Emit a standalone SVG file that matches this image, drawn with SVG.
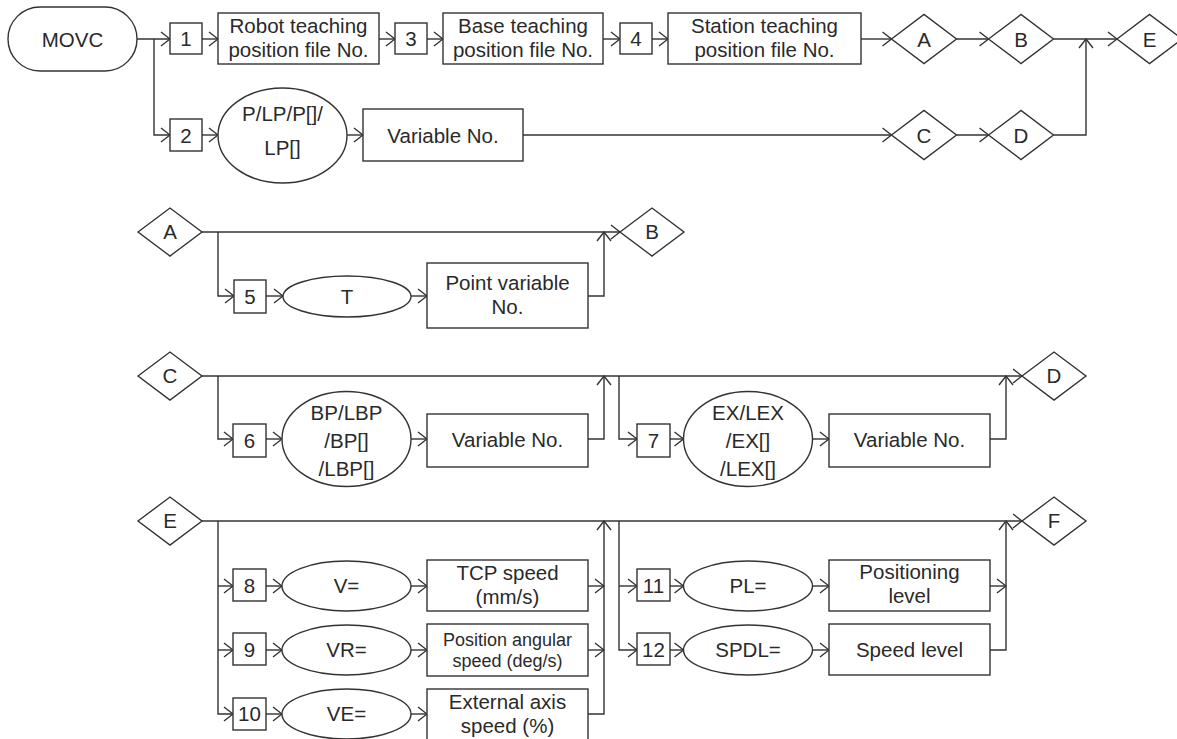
<svg xmlns="http://www.w3.org/2000/svg" width="1177" height="739" viewBox="0 0 1177 739">
<defs>
<marker id="arr" markerUnits="userSpaceOnUse" markerWidth="12" markerHeight="16" viewBox="-1 -8 12 16" refX="10" refY="0" orient="auto">
<path d="M1,-7 L10,0 L1,7" fill="none" stroke="#333" stroke-width="1.4"/>
</marker>
</defs>
<style>
.s{fill:#fff;stroke:#333;stroke-width:1.4}
.c{fill:none;stroke:#333;stroke-width:1.4}
.a{marker-end:url(#arr)}
text{font-family:"Liberation Sans",Arial,sans-serif;font-size:20.5px;fill:#2a2a2a;text-anchor:middle}
.sm{font-size:18px}
</style>
<rect width="1177" height="739" fill="#fff"/>
<g id="connectors">
<path class="c a" d="M137,39 H170"/>
<path class="c a" d="M154,39 V135 H170"/>
<path class="c a" d="M202,39 H218"/>
<path class="c a" d="M379,39 H395"/>
<path class="c a" d="M427,39 H443"/>
<path class="c a" d="M603,39 H620"/>
<path class="c a" d="M652,39 H668"/>
<path class="c a" d="M861,39 H891.5"/>
<path class="c a" d="M956.5,39 H988.5"/>
<path class="c a" d="M1053.5,39 H1117"/>
<path class="c a" d="M202,135 H218"/>
<path class="c a" d="M347,135 H363"/>
<path class="c a" d="M523,135 H891.5"/>
<path class="c a" d="M956.5,135 H988.5"/>
<path class="c a" d="M1053.5,135 H1086 V39"/>
<path class="c a" d="M202,232 H620"/>
<path class="c a" d="M218,232 V296 H234"/>
<path class="c a" d="M266,296 H283"/>
<path class="c a" d="M411,296 H427"/>
<path class="c a" d="M588,296 H604 V232"/>
<path class="c a" d="M202,376 H1022"/>
<path class="c a" d="M218,376 V439 H233"/>
<path class="c a" d="M266,439 H282"/>
<path class="c a" d="M411,439 H427"/>
<path class="c a" d="M588,439 H604 V376"/>
<path class="c a" d="M619,376 V439 H637"/>
<path class="c a" d="M670,439 H683.5"/>
<path class="c a" d="M812.5,439 H829"/>
<path class="c a" d="M990,439 H1006 V376"/>
<path class="c a" d="M202,521 H1022"/>
<path class="c a" d="M218,521 V714 H233"/>
<path class="c a" d="M218,586 H233"/>
<path class="c a" d="M218,650 H233"/>
<path class="c a" d="M266,586 H282"/>
<path class="c a" d="M266,650 H282"/>
<path class="c a" d="M266,714 H282"/>
<path class="c a" d="M411,586 H427"/>
<path class="c a" d="M411,650 H427"/>
<path class="c a" d="M411,714 H427"/>
<path class="c a" d="M588,586 H604"/>
<path class="c a" d="M588,650 H604"/>
<path class="c a" d="M588,714 H604 V521"/>
<path class="c a" d="M619,521 V650 H637"/>
<path class="c a" d="M619,586 H637"/>
<path class="c a" d="M670,586 H683.5"/>
<path class="c a" d="M670,650 H683.5"/>
<path class="c a" d="M812.5,586 H829"/>
<path class="c a" d="M812.5,650 H829"/>
<path class="c a" d="M990,586 H1006"/>
<path class="c a" d="M990,650 H1006 V521"/>
</g>
<g id="movc"><rect class="s" x="8" y="7" width="129" height="64" rx="32" ry="32"/><text x="72.5" y="46.5">MOVC</text></g>
<g id="n1"><rect class="s" x="170" y="23" width="32" height="31"/><text x="186" y="46">1</text></g>
<g id="robot-file"><rect class="s" x="218" y="13" width="161" height="51"/><text x="298.5" y="33">Robot teaching</text><text x="298.5" y="57">position file No.</text></g>
<g id="n3"><rect class="s" x="395" y="23" width="32" height="31"/><text x="411" y="46">3</text></g>
<g id="base-file"><rect class="s" x="443" y="13" width="160" height="51"/><text x="523" y="33">Base teaching</text><text x="523" y="57">position file No.</text></g>
<g id="n4"><rect class="s" x="620" y="23" width="32" height="31"/><text x="636" y="46">4</text></g>
<g id="station-file"><rect class="s" x="668" y="13" width="193" height="51"/><text x="764.5" y="33">Station teaching</text><text x="764.5" y="57">position file No.</text></g>
<g id="dA1"><polygon class="s" points="891.5,39 924,14.5 956.5,39 924,63.5"/><text x="924" y="46.5">A</text></g>
<g id="dB1"><polygon class="s" points="988.5,39 1021,14.5 1053.5,39 1021,63.5"/><text x="1021" y="46.5">B</text></g>
<g id="dE1"><polygon class="s" points="1117,39 1149.5,14.5 1182,39 1149.5,63.5"/><text x="1149.5" y="46.5">E</text></g>
<g id="n2"><rect class="s" x="170" y="119" width="32" height="32"/><text x="186" y="142.5">2</text></g>
<g id="p-lp"><ellipse class="s" cx="282.5" cy="135.5" rx="64.5" ry="47.5"/><text x="282.5" y="121">P/LP/P[]/</text><text x="282.5" y="155">LP[]</text></g>
<g id="var1"><rect class="s" x="363" y="109" width="160" height="52"/><text x="443" y="142.5">Variable No.</text></g>
<g id="dC1"><polygon class="s" points="891.5,135 924,110.5 956.5,135 924,159.5"/><text x="924" y="142.5">C</text></g>
<g id="dD1"><polygon class="s" points="988.5,135 1021,110.5 1053.5,135 1021,159.5"/><text x="1021" y="142.5">D</text></g>
<g id="dA2"><polygon class="s" points="138,232 170,208 202,232 170,256"/><text x="170" y="239">A</text></g>
<g id="dB2"><polygon class="s" points="620,232 652,208 684,232 652,256"/><text x="652" y="239">B</text></g>
<g id="n5"><rect class="s" x="234" y="280" width="32" height="33"/><text x="250" y="303.5">5</text></g>
<g id="t"><ellipse class="s" cx="347" cy="296.5" rx="64" ry="20.5"/><text x="347" y="303.5">T</text></g>
<g id="point-var"><rect class="s" x="427" y="263" width="161" height="65"/><text x="507.5" y="290">Point variable</text><text x="507.5" y="313.5">No.</text></g>
<g id="dC2"><polygon class="s" points="138,376 170,352 202,376 170,400"/><text x="170" y="383">C</text></g>
<g id="dD2"><polygon class="s" points="1022,376 1054,352 1086,376 1054,400"/><text x="1054" y="383">D</text></g>
<g id="n6"><rect class="s" x="233" y="424" width="33" height="33"/><text x="249.5" y="447.5">6</text></g>
<g id="bp"><ellipse class="s" cx="346.5" cy="439" rx="64.5" ry="47.5"/><text x="346.5" y="420">BP/LBP</text><text x="346.5" y="448">/BP[]</text><text x="346.5" y="476">/LBP[]</text></g>
<g id="var2"><rect class="s" x="427" y="414" width="161" height="53"/><text x="507.5" y="447">Variable No.</text></g>
<g id="n7"><rect class="s" x="637" y="424" width="33" height="33"/><text x="653.5" y="447.5">7</text></g>
<g id="ex"><ellipse class="s" cx="748" cy="439" rx="64.5" ry="47.5"/><text x="748" y="420">EX/LEX</text><text x="748" y="448">/EX[]</text><text x="748" y="476">/LEX[]</text></g>
<g id="var3"><rect class="s" x="829" y="414" width="161" height="53"/><text x="909.5" y="447">Variable No.</text></g>
<g id="dE2"><polygon class="s" points="138,521 170,497 202,521 170,545"/><text x="170" y="528">E</text></g>
<g id="dF"><polygon class="s" points="1022,521 1054,497 1086,521 1054,545"/><text x="1054" y="528">F</text></g>
<g id="n8"><rect class="s" x="233" y="569" width="33" height="32"/><text x="249.5" y="593">8</text></g>
<g id="v"><ellipse class="s" cx="346.5" cy="586" rx="64.5" ry="25"/><text x="346.5" y="593">V=</text></g>
<g id="tcp"><rect class="s" x="427" y="560" width="161" height="51"/><text x="507.5" y="580">TCP speed</text><text x="507.5" y="604">(mm/s)</text></g>
<g id="n9"><rect class="s" x="233" y="633" width="33" height="32"/><text x="249.5" y="657">9</text></g>
<g id="vr"><ellipse class="s" cx="346.5" cy="650" rx="64.5" ry="25"/><text x="346.5" y="657">VR=</text></g>
<g id="angular"><rect class="s" x="427" y="624" width="161" height="52"/><text class="sm" x="507.5" y="645.5">Position angular</text><text class="sm" x="507.5" y="667">speed (deg/s)</text></g>
<g id="n10"><rect class="s" x="233" y="698" width="33" height="32"/><text x="249.5" y="721">10</text></g>
<g id="ve"><ellipse class="s" cx="346.5" cy="714" rx="64.5" ry="25"/><text x="346.5" y="721">VE=</text></g>
<g id="ext"><rect class="s" x="427" y="689" width="161" height="53"/><text x="507.5" y="709">External axis</text><text x="507.5" y="733">speed (%)</text></g>
<g id="n11"><rect class="s" x="637" y="569" width="33" height="32"/><text x="653.5" y="593">11</text></g>
<g id="pl"><ellipse class="s" cx="748" cy="586" rx="64.5" ry="25"/><text x="748" y="593">PL=</text></g>
<g id="positioning"><rect class="s" x="829" y="560" width="161" height="51"/><text x="909.5" y="579">Positioning</text><text x="909.5" y="603">level</text></g>
<g id="n12"><rect class="s" x="637" y="633" width="33" height="32"/><text x="653.5" y="657">12</text></g>
<g id="spdl"><ellipse class="s" cx="748" cy="650" rx="64.5" ry="25"/><text x="748" y="657">SPDL=</text></g>
<g id="speed-level"><rect class="s" x="829" y="624" width="161" height="51"/><text x="909.5" y="657">Speed level</text></g>
</svg>
